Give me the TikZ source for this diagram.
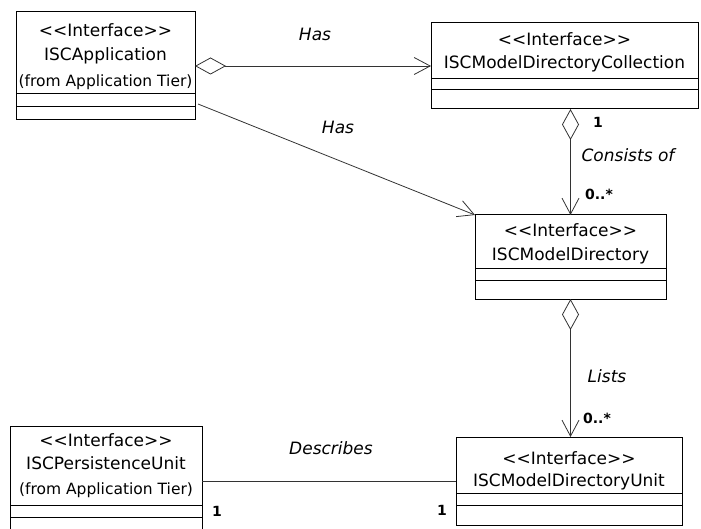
\documentclass[tikz,border=0pt]{standalone}
\usepackage{fontspec}
\setmainfont{DejaVu Sans}
\usetikzlibrary{arrows.meta,calc}
\newcommand{\stereo}{<\kern0pt<Interface>\kern0pt>}
\begin{document}
\begin{tikzpicture}[x=1pt,y=-1pt,
  cls/.style={draw, line width=1pt, anchor=north west, inner sep=0pt, outer sep=0pt},
  txt/.style={anchor=base, inner sep=0pt, font=\fontsize{17}{20}\selectfont},
  small/.style={anchor=base, inner sep=0pt, font=\fontsize{15.5}{18}\selectfont},
  lbl/.style={inner sep=0pt, font=\fontsize{17}{20}\selectfont\itshape},
  mult/.style={inner sep=0pt, font=\fontsize{14}{16}\selectfont\bfseries},
  comp/.style={line width=1pt},
  conn/.style={line width=0.8pt, draw=black!80},
  agg/.style={conn, {Diamond[open,length=31pt,width=17pt]}-{Straight Barb[length=16pt,width=17pt]}},
  nav/.style={conn, -{Straight Barb[length=16pt,width=17pt]}}
]
\useasboundingbox (0,0) rectangle (701,529);

% ISCApplication
\node[cls, minimum width=179pt, minimum height=108pt] (app) at (16,12) {};
\draw[comp] ($(app.north west)+(0,82)$) -- ($(app.north east)+(0,82)$);
\draw[comp] ($(app.north west)+(0,95)$) -- ($(app.north east)+(0,95)$);
\node[txt] (appst) at (105.5,37) {\stereo};
\node[txt] (appnm) at (105.5,61) {ISCApplication};
\node[small] (appfr) at (105.5,87) {(from Application Tier)};

% ISCModelDirectoryCollection
\node[cls, minimum width=267pt, minimum height=86pt] (coll) at (431,23) {};
\draw[comp] ($(coll.north west)+(0,56)$) -- ($(coll.north east)+(0,56)$);
\draw[comp] ($(coll.north west)+(0,67)$) -- ($(coll.north east)+(0,67)$);
\node[txt] (collst) at (564.5,46) {\stereo};
\node[txt] (collnm) at (564.5,69) {ISCModelDirectoryCollection};

% ISCModelDirectory
\node[cls, minimum width=191pt, minimum height=84pt] (dir) at (475,215) {};
\draw[comp] ($(dir.north west)+(0,54)$) -- ($(dir.north east)+(0,54)$);
\draw[comp] ($(dir.north west)+(0,65)$) -- ($(dir.north east)+(0,65)$);
\node[txt] (dirst) at (570.5,237) {\stereo};
\node[txt] (dirnm) at (570.5,261) {ISCModelDirectory};

% ISCPersistenceUnit
\node[cls, minimum width=192pt, minimum height=110pt] (pers) at (10,426) {};
\draw[comp] ($(pers.north west)+(0,79)$) -- ($(pers.north east)+(0,79)$);
\draw[comp] ($(pers.north west)+(0,91)$) -- ($(pers.north east)+(0,91)$);
\node[txt] (persst) at (106,446) {\stereo};
\node[txt] (persnm) at (106,469) {ISCPersistenceUnit};
\node[small] (persfr) at (106,494) {(from Application Tier)};

% ISCModelDirectoryUnit
\node[cls, minimum width=226pt, minimum height=88pt] (unit) at (456,437) {};
\draw[comp] ($(unit.north west)+(0,56)$) -- ($(unit.north east)+(0,56)$);
\draw[comp] ($(unit.north west)+(0,68)$) -- ($(unit.north east)+(0,68)$);
\node[txt] (unitst) at (569,464) {\stereo};
\node[txt] (unitnm) at (569,486) {ISCModelDirectoryUnit};

% connectors
\draw[agg] (app.east) -- (coll.west);
\coordinate (h2s) at (198,104);
\draw[nav] (h2s) -- (dir.north west);
\draw[agg] (dir.north |- coll.south) -- (dir.north);
\draw[agg] (dir.south) -- (dir.south |- unit.north);
\draw[conn] (pers.east |- unit.west) -- (unit.west);

% labels
\node[lbl] (l1) at (315,34) {Has};
\node[lbl] (l2) at (338,127) {Has};
\node[lbl] (l3) at (628,155) {Consists of};
\node[lbl] (l4) at (607,376) {Lists};
\node[lbl] (l5) at (331,448) {Describes};
\node[mult] (m1) at (598,122) {1};
\node[mult] (m2) at (599,194) {0..*};
\node[mult] (m3) at (597,418) {0..*};
\node[mult] (m4) at (217,511) {1};
\node[mult] (m5) at (442,510) {1};
\end{tikzpicture}
\end{document}
